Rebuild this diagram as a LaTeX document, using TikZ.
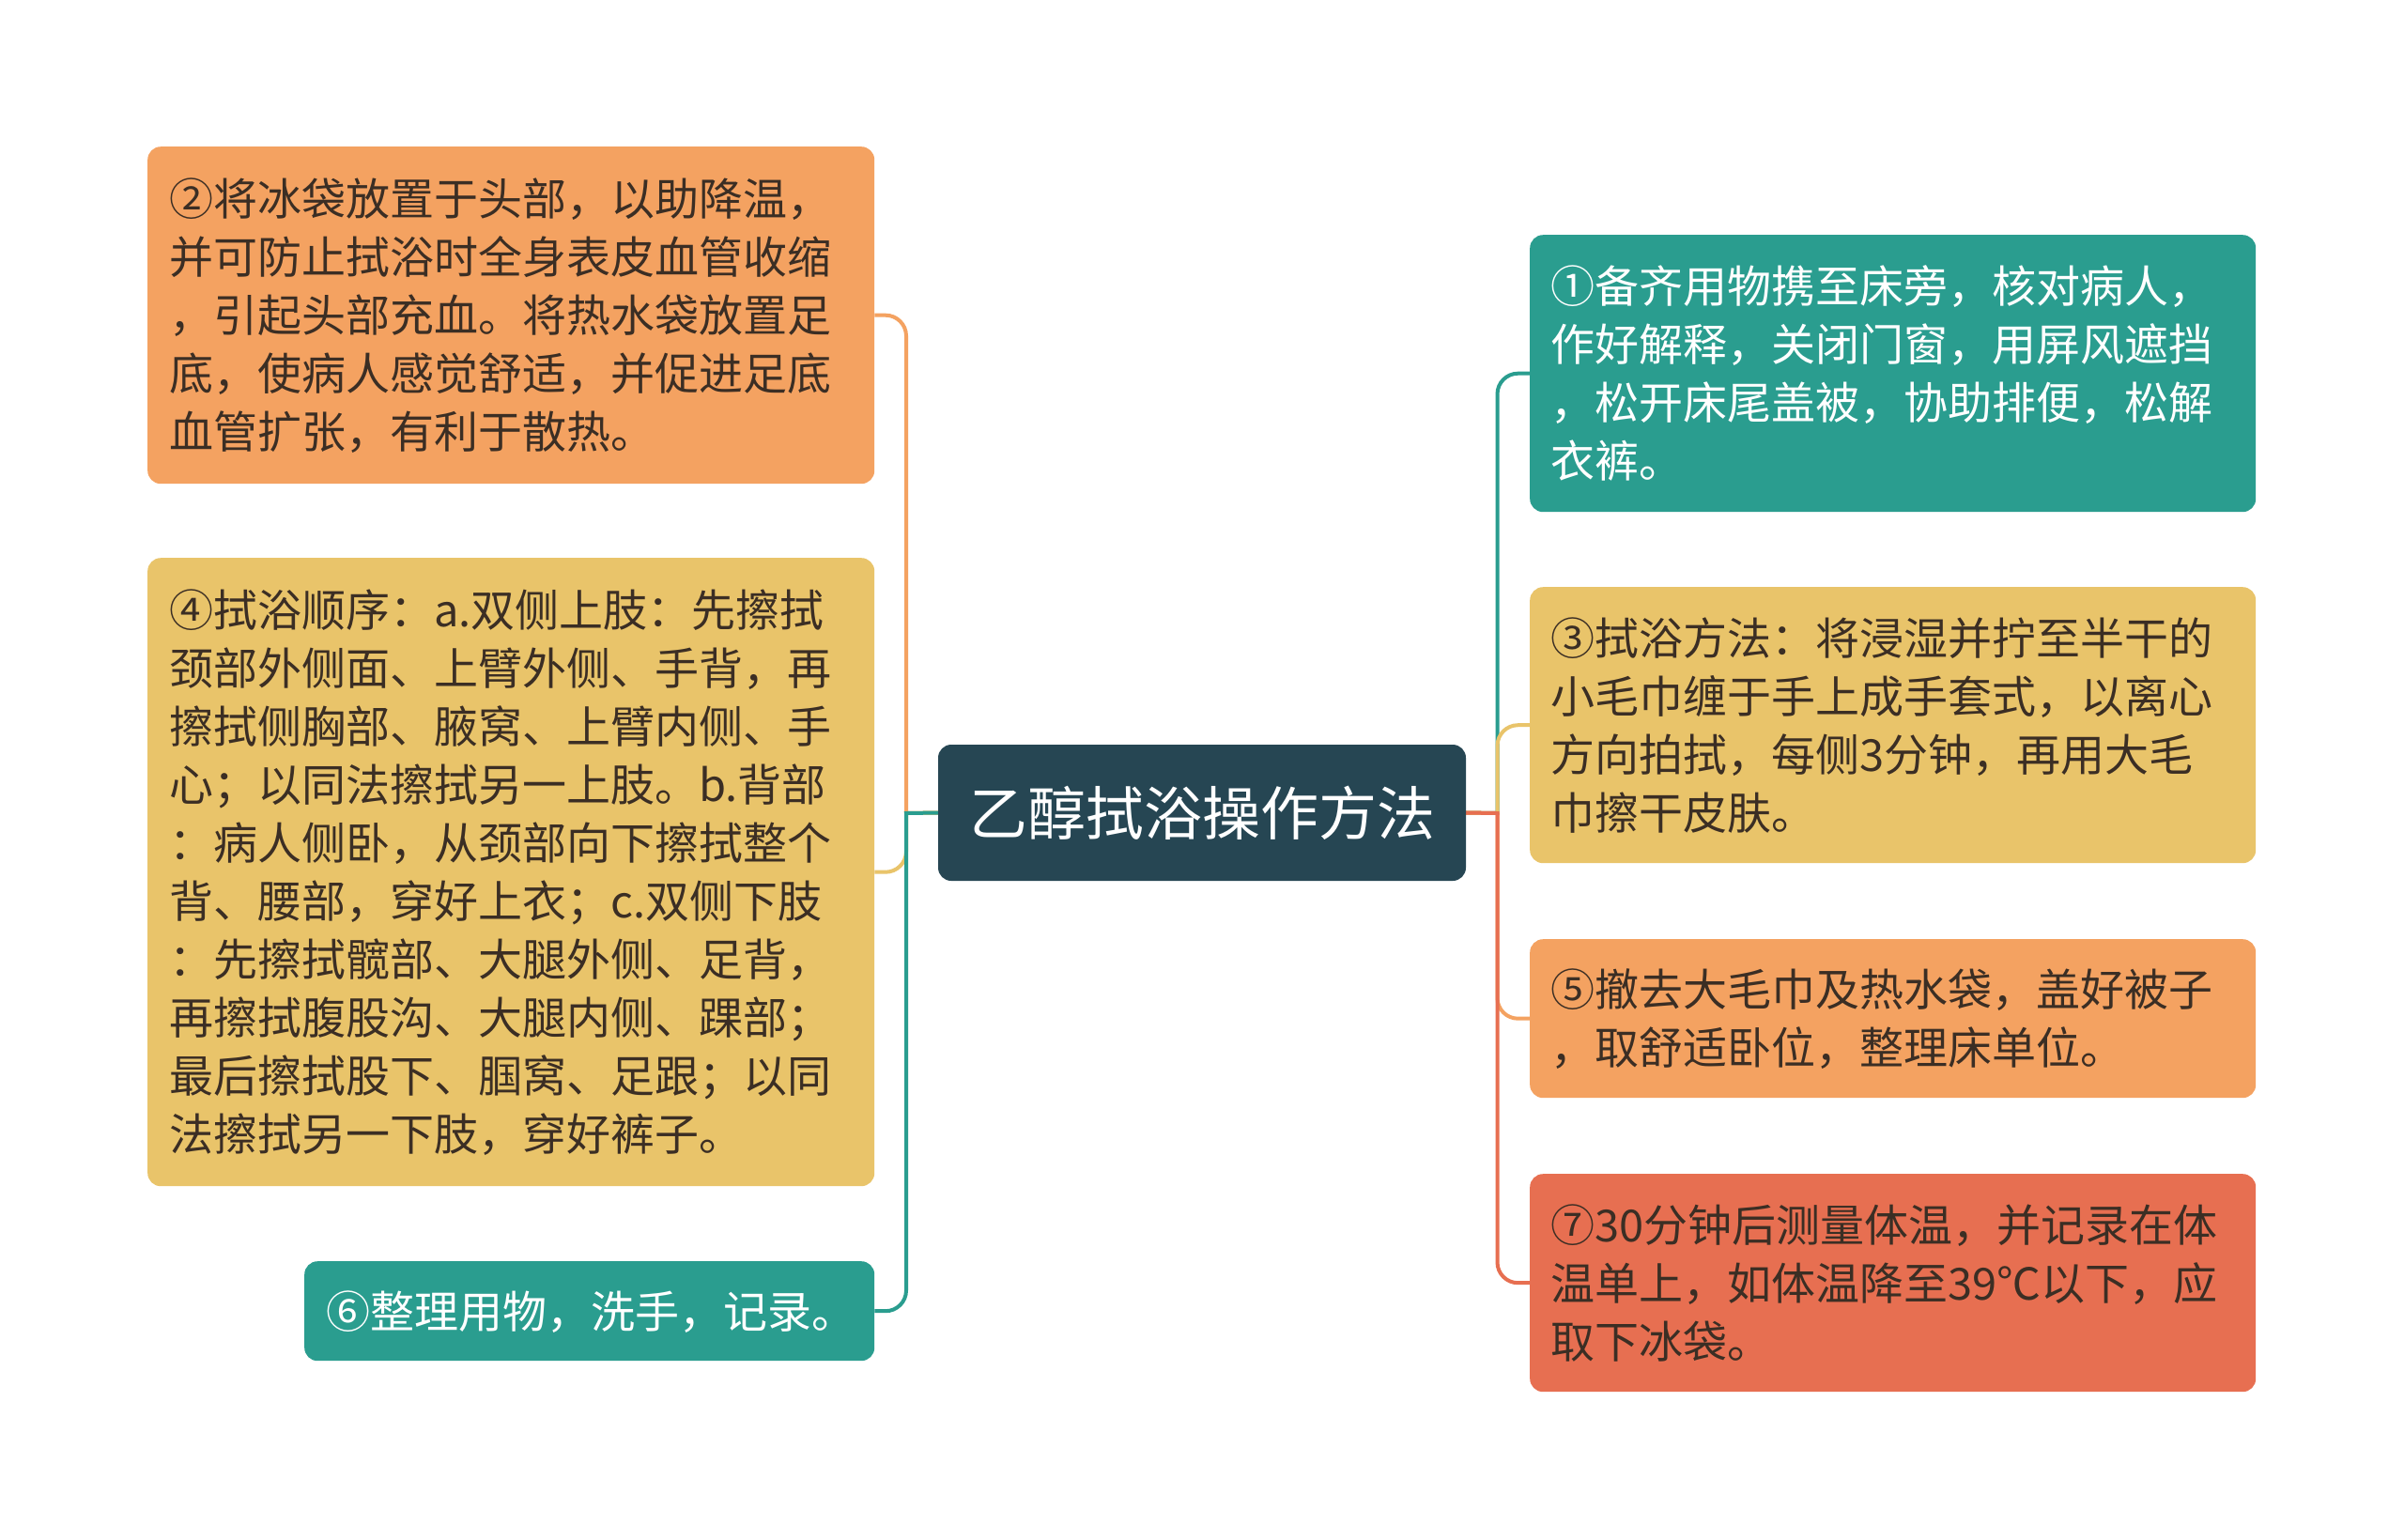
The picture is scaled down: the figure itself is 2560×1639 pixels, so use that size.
\documentclass[tikz,border=0pt]{standalone}
\usepackage{fontspec}
\newfontfamily\cjk{Noto Sans CJK SC}
\usetikzlibrary{backgrounds}
\definecolor{rootc}{HTML}{264653}
\definecolor{tealc}{HTML}{2A9D8F}
\definecolor{yelc}{HTML}{E9C46A}
\definecolor{orac}{HTML}{F4A261}
\definecolor{redc}{HTML}{E76F51}
\definecolor{txtc}{HTML}{3B2E24}
\newcommand\lstrut{\rule[-13.1pt]{0pt}{62pt}}
\begin{document}
\begin{tikzpicture}[x=1pt,y=-1pt,
  box/.style={rounded corners=14pt, inner sep=0pt, align=left, anchor=north west,
    font=\cjk\fontsize{47pt}{62pt}\selectfont, text=txtc},
  stub/.style={line width=4pt, line cap=rect},
  link/.style={line width=4pt, rounded corners=22pt}]
\useasboundingbox (0,0) rectangle (2560,1639);

% root
\node[fill=rootc, rounded corners=14pt, inner sep=0pt, minimum width=562pt, minimum height=145pt,
  text=white, font=\cjk\fontsize{62pt}{62pt}\selectfont] (root) at (1280,865.5) {乙醇拭浴操作方法};

% left side
\node[box, fill=orac, minimum width=774pt, minimum height=359pt, text width=728pt] (n2) at (157,156) {%
\lstrut ②将冰袋放置于头部，以助降温，\\
\lstrut 并可防止拭浴时全身表皮血管收缩\\
\lstrut ，引起头部充血。将热水袋放置足\\
\lstrut 底，使病人感觉舒适，并促进足底\\
\lstrut 血管扩张，有利于散热。};

\node[box, fill=yelc, minimum width=774pt, minimum height=669pt, text width=728pt] (n4) at (157,594) {%
\lstrut ④拭浴顺序：a.双侧上肢：先擦拭\\
\lstrut 颈部外侧面、上臂外侧、手背，再\\
\lstrut 擦拭侧胸部、腋窝、上臂内侧、手\\
\lstrut 心；以同法擦拭另一上肢。b.背部\\
\lstrut ：病人侧卧，从颈部向下擦拭整个\\
\lstrut 背、腰部，穿好上衣；c.双侧下肢\\
\lstrut ：先擦拭髋部、大腿外侧、足背，\\
\lstrut 再擦拭腹股沟、大腿内侧、踝部；\\
\lstrut 最后擦拭股下、腘窝、足跟；以同\\
\lstrut 法擦拭另一下肢，穿好裤子。};

\node[box, fill=tealc, text=white, minimum width=607pt, minimum height=106pt, text width=561pt] (n6) at (324,1343) {%
\lstrut ⑥整理用物，洗手，记录。};

% right side
\node[box, fill=tealc, text=white, minimum width=773pt, minimum height=295pt, text width=728pt] (n1) at (1629,250) {%
\lstrut ①备齐用物携至床旁，核对病人，\\
\lstrut 作好解释，关闭门窗，用屏风遮挡\\
\lstrut ，松开床尾盖被，协助排便，松解\\
\lstrut 衣裤。};

\node[box, fill=yelc, minimum width=773pt, minimum height=294pt, text width=728pt] (n3) at (1629,625) {%
\lstrut ③拭浴方法：将浸湿并拧至半干的\\
\lstrut 小毛巾缠于手上成手套式，以离心\\
\lstrut 方向拍拭，每侧3分钟，再用大毛\\
\lstrut 巾擦干皮肤。};

\node[box, fill=orac, minimum width=773pt, minimum height=169pt, text width=728pt] (n5) at (1629,1000) {%
\lstrut ⑤撤去大毛巾及热水袋，盖好被子\\
\lstrut ，取舒适卧位，整理床单位。};

\node[box, fill=redc, minimum width=773pt, minimum height=232pt, text width=728pt] (n7) at (1629,1250) {%
\lstrut ⑦30分钟后测量体温，并记录在体\\
\lstrut 温单上，如体温降至39℃以下，应\\
\lstrut 取下冰袋。};

\coordinate (jl) at (965,866);
\coordinate (jr) at (1594.5,866);

\begin{pgfonlayer}{background}
\fill[white] (0,0) rectangle (2560,1639);
% right connectors, in order 1,3,5,7
\draw[stub, tealc] (root.east) -- (jr);
\draw[link, tealc] (jr) |- (n1.west);
\draw[stub, yelc] (root.east) -- (jr);
\draw[link, yelc] (jr) |- (n3.west);
\draw[stub, orac] (root.east) -- (jr);
\draw[link, orac] (jr) |- (n5.west);
\draw[stub, redc] (root.east) -- (jr);
\draw[link, redc] (jr) |- (n7.west);
% left connectors, in order 2,4,6
\draw[stub, orac] (root.west) -- (jl);
\draw[link, orac] (jl) |- (n2.east);
\draw[stub, yelc] (root.west) -- (jl);
\draw[link, yelc] (jl) |- (n4.east);
\draw[stub, tealc] (root.west) -- (jl);
\draw[link, tealc] (jl) |- (n6.east);
\end{pgfonlayer}
\end{tikzpicture}
\end{document}
